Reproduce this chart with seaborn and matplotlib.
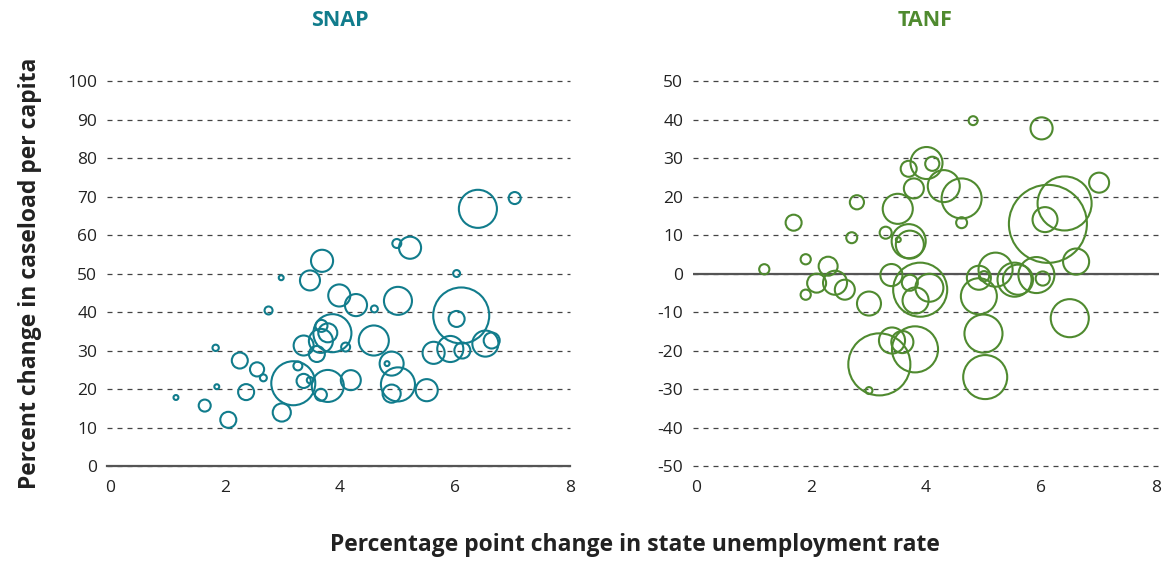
import matplotlib
matplotlib.use("Agg")
import matplotlib.pyplot as plt
import seaborn as sns
import pandas as pd

# SNAP: unemployment change (pp), caseload change (%), bubble weight
snap_x = [6.40, 7.04, 4.99, 5.22, 3.69, 2.98, 3.48, 6.03, 3.99, 4.28,
          5.01, 4.60, 2.76, 6.11, 6.03, 3.87, 3.68, 3.79, 3.67, 3.37,
          3.60, 4.10, 4.59, 1.84, 2.26, 2.56, 2.67, 5.63, 5.92, 6.13,
          6.53, 6.64, 4.90, 4.82, 5.01, 4.90, 5.51, 3.19, 3.27, 3.37,
          3.48, 3.79, 3.67, 4.19, 2.37, 1.86, 1.15, 1.65, 2.06, 2.99]
snap_y = [66.8, 69.6, 57.8, 56.7, 53.3, 48.9, 48.2, 50.0, 44.3, 41.8,
          42.9, 40.8, 40.4, 39.1, 38.2, 34.5, 36.4, 34.6, 32.5, 31.3,
          29.1, 30.9, 32.6, 30.7, 27.4, 25.1, 22.9, 29.4, 30.4, 30.0,
          31.8, 32.6, 26.6, 26.6, 21.2, 18.8, 19.7, 21.5, 26.0, 22.1,
          22.3, 20.8, 18.5, 22.3, 19.2, 20.6, 17.8, 15.7, 12.0, 13.9]
snap_size = [18.1, 1.8, 1.0, 6.1, 6.1, 0.3, 5.0, 0.6, 6.1, 6.1,
             9.8, 0.6, 0.8, 39.2, 3.2, 18.1, 1.8, 4.5, 7.2, 5.0,
             3.2, 1.0, 11.3, 0.5, 3.2, 2.5, 0.6, 6.1, 8.5, 3.2,
             8.5, 3.2, 7.2, 0.3, 14.5, 4.1, 6.1, 24.2, 1.0, 2.5,
             0.5, 12.8, 1.8, 5.0, 3.2, 0.3, 0.3, 1.8, 3.2, 4.1]

# TANF
tanf_x = [4.82, 6.01, 4.01, 4.11, 3.70, 4.31, 4.62, 3.79, 3.51, 2.80,
          1.70, 4.62, 6.12, 6.41, 6.07, 7.01, 6.61, 2.71, 3.30, 3.70,
          3.72, 3.52, 1.19, 1.91, 2.30, 2.10, 2.42, 2.59, 1.91, 3.40,
          3.72, 3.90, 4.06, 3.82, 3.01, 4.92, 5.01, 5.21, 5.54, 5.60,
          5.92, 6.03, 4.92, 5.00, 5.03, 6.50, 3.19, 3.41, 3.59, 3.81, 3.01]
tanf_y = [39.7, 37.7, 28.7, 28.5, 27.2, 22.7, 19.5, 22.1, 16.8, 18.5,
          13.2, 13.2, 12.9, 18.2, 14.0, 23.6, 3.1, 9.3, 10.6, 8.4,
          7.5, 8.8, 1.1, 3.7, 1.9, -2.5, -2.4, -4.2, -5.5, -0.4,
          -2.4, -4.2, -3.7, -7.0, -7.8, -1.1, -0.7, 1.0, -1.6, -1.6,
          -0.4, -1.3, -5.9, -15.6, -26.9, -11.6, -23.6, -17.4, -17.8, -19.7, -30.4]
tanf_size = [1.0, 6.1, 12.8, 2.5, 3.2, 12.8, 20.0, 5.0, 11.3, 2.5,
             3.2, 1.5, 76.0, 36.5, 7.8, 5.0, 8.5, 1.5, 1.8, 14.5,
             9.8, 0.3, 1.3, 1.3, 4.5, 4.5, 7.2, 5.0, 1.3, 6.1,
             3.2, 36.5, 9.8, 8.5, 7.2, 7.2, 1.3, 14.5, 14.5, 11.3,
             16.2, 2.5, 16.2, 18.1, 24.2, 18.1, 48.1, 8.5, 6.1, 26.5, 0.6]

snap_ticks = list(range(0, 101, 10))
tanf_ticks = list(range(-50, 51, 10))
x_ticks = [0, 2, 4, 6, 8]

snap_color = "#117c8c"
tanf_color = "#4f8a2f"

snap = pd.DataFrame({"x": snap_x, "y": snap_y, "w": snap_size})
tanf = pd.DataFrame({"x": tanf_x, "y": tanf_y, "w": tanf_size})

sns.set_style("white")
plt.rcParams["font.family"] = ["Open Sans", "DejaVu Sans"]
plt.rcParams["axes.unicode_minus"] = False

fig = plt.figure(figsize=(11.65, 5.61), dpi=100)
ax1 = fig.add_axes([0.0918, 0.1693, 0.3974, 0.6863])
ax2 = fig.add_axes([0.5948, 0.1693, 0.4000, 0.6863])

# marker area in pt^2 per unit weight
k = 41.5

for ax, df, color, ticks in [(ax1, snap, snap_color, snap_ticks),
                              (ax2, tanf, tanf_color, tanf_ticks)]:
    sns.scatterplot(data=df, x="x", y="y", size="w", sizes=(0, k * 80),
                    size_norm=(0, 80), legend=False, color=color,
                    facecolor="none", edgecolor=color, linewidth=1.5,
                    ax=ax, zorder=3)
    ax.set_yticks(ticks)
    ax.set_xticks(x_ticks)
    ax.set_ylim(ticks[0], ticks[-1])
    ax.set_xlabel("")
    ax.set_ylabel("")
    ax.yaxis.grid(True, linestyle=(0, (4, 4)), color="#444444", lw=0.9)
    for gl in ax.get_ygridlines():
        gl.set_clip_on(False)
    ax.set_axisbelow(True)
    ax.tick_params(axis="y", length=0, labelsize=12.5, colors="#222222", pad=7)
    ax.tick_params(axis="x", length=0, labelsize=12.5, colors="#222222", pad=10)
    for s in ax.spines.values():
        s.set_visible(False)

ax1.set_xlim(-0.05, 8)
ax1.spines["bottom"].set_visible(True)
ax1.spines["bottom"].set_color("#555555")
ax1.spines["bottom"].set_linewidth(1.6)
ax1.spines["bottom"].set_zorder(2.5)

ax2.set_xlim(-0.05, 8.05)
ax2.axhline(0, color="#555555", lw=1.6, zorder=2)

fig.text(340 / 1165, 1 - 21 / 561, "SNAP", ha="center", va="center",
         fontsize=15.5, fontweight="bold", color=snap_color)
fig.text(925 / 1165, 1 - 21 / 561, "TANF", ha="center", va="center",
         fontsize=15.5, fontweight="bold", color=tanf_color)
fig.text(30 / 1165, 1 - 273 / 561, "Percent change in caseload per capita",
         rotation=90, ha="center", va="center", fontsize=16.5,
         fontweight="bold", color="#222222")
fig.text(635 / 1165, 1 - 545 / 561,
         "Percentage point change in state unemployment rate",
         ha="center", va="center", fontsize=16.5, fontweight="bold",
         color="#222222")

fig.savefig("out.png", dpi=100)
